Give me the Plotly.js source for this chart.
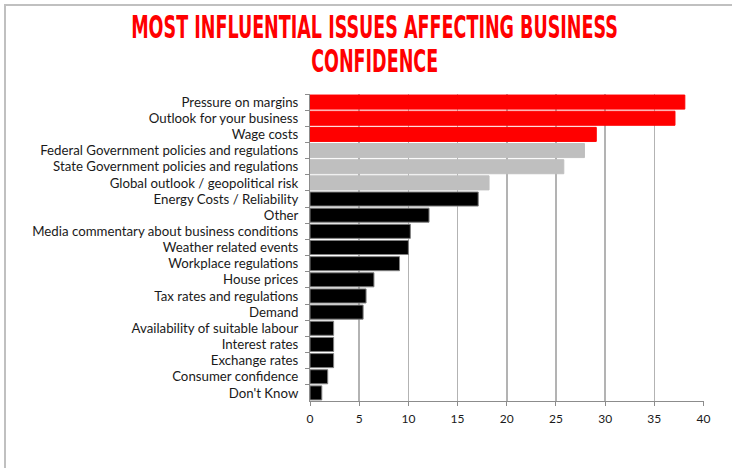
<!DOCTYPE html>
<html>
<head>
<meta charset="utf-8">
<script src="https://cdn.plot.ly/plotly-3.0.1.min.js"></script>
<style>
  html, body { margin: 0; padding: 0; background: #fff; }
  #wrap { position: relative; width: 732px; height: 468px; overflow: hidden; }
  #chart { width: 732px; height: 468px; }
  #frame { position: absolute; left: 4px; top: 4px; width: 740px; height: 480px;
           border-top: 2px solid #c0c0c0; border-left: 2px solid #c0c0c0; pointer-events: none; }
</style>
</head>
<body>
<div id="wrap">
  <div id="chart"></div>
  <div id="frame"></div>
</div>
<script>
const titleLines = ["MOST INFLUENTIAL ISSUES AFFECTING BUSINESS", "CONFIDENCE"];
const categories = [
  "Pressure on margins",
  "Outlook for your business",
  "Wage costs",
  "Federal Government policies and regulations",
  "State Government policies and regulations",
  "Global outlook / geopolitical risk",
  "Energy Costs / Reliability",
  "Other",
  "Media commentary about business conditions",
  "Weather related events",
  "Workplace regulations",
  "House prices",
  "Tax rates and regulations",
  "Demand",
  "Availability of suitable labour",
  "Interest rates",
  "Exchange rates",
  "Consumer confidence",
  "Don't Know"
];
const values = [38.1, 37.1, 29.1, 27.9, 25.8, 18.2, 17.1, 12.1, 10.2, 10.0, 9.1, 6.5, 5.7, 5.4, 2.4, 2.4, 2.4, 1.8, 1.2];
const groups = ["top","top","top","mid","mid","mid","rest","rest","rest","rest","rest","rest","rest","rest","rest","rest","rest","rest","rest"];
const xTicks = [0, 5, 10, 15, 20, 25, 30, 35, 40];

const fillFor = {top: "#ff0000", mid: "#bfbfbf", rest: "#000000"};
const lineFor = {top: "#ff0000", mid: "#bfbfbf", rest: "#808080"};

const trace = {
  type: "bar",
  orientation: "h",
  y: categories,
  x: values,
  marker: {
    color: groups.map(g => fillFor[g]),
    line: { color: groups.map(g => lineFor[g]), width: 1 }
  },
  hoverinfo: "x+y"
};

const H = 468, W = 732;
const titleFont = { family: "DejaVu Sans Condensed, Liberation Sans Narrow, sans-serif", size: 26, color: "#ff0000", weight: "bold" };
// vertical centres of the two title lines (px from top)
const titleCentres = [27, 61];

const layout = {
  width: W, height: H,
  margin: { l: 310, r: 28, t: 94, b: 67 },
  paper_bgcolor: "#ffffff",
  plot_bgcolor: "#ffffff",
  showlegend: false,
  bargap: 0.13,
  annotations: titleLines.map((t, i) => ({
    text: t,
    xref: "paper", yref: "paper",
    x: (374 - 310) / (W - 338),
    y: 1 + (94 - titleCentres[i]) / (H - 94 - 67),
    xanchor: "center", yanchor: "middle",
    showarrow: false,
    font: titleFont,
    name: "title" + i
  })),
  xaxis: {
    range: [0, 40.05],
    tickvals: xTicks,
    ticktext: xTicks.map(String),
    showgrid: true, gridcolor: "#b3b3b3", gridwidth: 1.5,
    zeroline: false,
    showline: true, linecolor: "#8c8c8c", linewidth: 1,
    ticks: "outside", ticklen: 4, tickcolor: "#8c8c8c",
    ticklabelstandoff: 3,
    tickfont: { family: "Lato, Open Sans, sans-serif", size: 12, color: "#1a1a1a" },
    fixedrange: true
  },
  yaxis: {
    type: "category",
    autorange: "reversed",
    tickson: "boundaries",
    showgrid: false,
    zeroline: false,
    showline: true, linecolor: "#8c8c8c", linewidth: 1,
    ticks: "outside", ticklen: 4, tickcolor: "#8c8c8c",
    ticklabelstandoff: 8,
    tickfont: { family: "Lato, Open Sans, sans-serif", size: 13.25, color: "#1a1a1a" },
    fixedrange: true
  }
};

Plotly.newPlot("chart", [trace], layout, { displayModeBar: false, staticPlot: true }).then(gd => {
  // squeeze the title into the tall, condensed look of the reference
  const sx = 0.75, sy = 1.25;
  gd.querySelectorAll("g.annotation").forEach(g => {
    const bb = g.getBBox();
    const cx = bb.x + bb.width / 2, cy = bb.y + bb.height / 2;
    g.setAttribute("transform",
      `translate(${cx},${cy}) scale(${sx},${sy}) translate(${-cx},${-cy})`);
  });
});
</script>
</body>
</html>
